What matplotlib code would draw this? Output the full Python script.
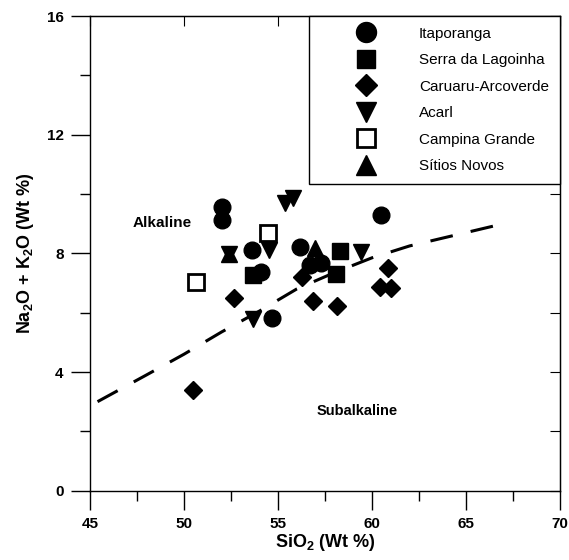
import matplotlib
matplotlib.use("Agg")
import matplotlib.pyplot as plt
from matplotlib.ticker import MultipleLocator

plt.rcParams["font.family"] = ["Liberation Sans", "DejaVu Sans"]
plt.rcParams["font.weight"] = "bold"
plt.rcParams["mathtext.fontset"] = "custom"
plt.rcParams["mathtext.rm"] = "Liberation Sans:bold"
plt.rcParams["mathtext.bf"] = "Liberation Sans:bold"

# data
itap_x = [52.0, 52.0, 53.6, 54.08, 54.66, 56.17, 56.7, 57.29, 60.46]
itap_y = [9.57, 9.12, 8.11, 7.38, 5.81, 8.22, 7.6, 7.67, 9.29]

serra_x = [53.69, 58.32, 58.09]
serra_y = [7.27, 8.09, 7.29]

caru_x = [50.48, 52.66, 56.26, 56.88, 58.12, 60.83, 60.4, 61.02]
caru_y = [3.39, 6.5, 7.21, 6.39, 6.22, 7.49, 6.87, 6.84]

acarl_x = [52.39, 54.54, 53.69, 55.35, 55.8, 59.41]
acarl_y = [7.98, 8.11, 5.77, 9.69, 9.86, 8.05]

campina_x = [54.48, 50.65]
campina_y = [8.67, 7.04]

sitios_x = [52.39, 56.97]
sitios_y = [7.98, 8.17]

# alkaline / subalkaline divide
line_x = [45.4, 48.0, 50.0, 52.0, 54.0, 56.0, 58.0, 60.0, 62.0, 64.0, 67.0]
line_y = [3.0, 3.9, 4.6, 5.35, 6.05, 6.8, 7.35, 7.85, 8.25, 8.55, 9.0]

fig = plt.figure(figsize=(5.69, 5.60), dpi=100)
ax = fig.add_axes([0.1582, 0.1238, 0.8260, 0.8476])

ax.plot(line_x, line_y, color="black", lw=2.2, dashes=(7.5, 6), zorder=1)

ms = 12
ax.plot(itap_x, itap_y, "o", color="black", ms=ms, ls="none", label="Itaporanga")
ax.plot(serra_x, serra_y, "s", color="black", ms=ms - 1, ls="none", label="Serra da Lagoinha")
ax.plot(caru_x, caru_y, "D", color="black", ms=ms - 3, ls="none", label="Caruaru-Arcoverde")
ax.plot(acarl_x, acarl_y, "v", color="black", ms=ms, ls="none", label="Acarl")
ax.plot(campina_x, campina_y, "s", mfc="white", mec="black", mew=2, ms=ms - 1,
        ls="none", label="Campina Grande")
ax.plot(sitios_x, sitios_y, "^", color="black", ms=ms, ls="none", label="Sítios Novos")

ax.text(48.82, 9.03, "Alkaline", fontsize=11, ha="center", va="center")
ax.text(59.2, 2.67, "Subalkaline", fontsize=10.5, ha="center", va="center")

ax.set_xlim(45, 70)
ax.set_ylim(0, 16)
ax.xaxis.set_major_locator(MultipleLocator(5))
ax.xaxis.set_minor_locator(MultipleLocator(2.5))
ax.yaxis.set_major_locator(MultipleLocator(4))
ax.yaxis.set_minor_locator(MultipleLocator(2))

ax.tick_params(which="major", direction="out", length=14, width=1, labelsize=11)
ax.tick_params(which="minor", direction="out", length=7, width=1)
ax.tick_params(which="both", top=False, right=False)
ax.tick_params(axis="x", pad=5)
ax.tick_params(axis="y", pad=5)

# inward ticks on top and right
ax2 = ax.secondary_xaxis("top")
ax2.xaxis.set_major_locator(MultipleLocator(5))
ax2.tick_params(direction="in", length=7, labeltop=False)
ay2 = ax.secondary_yaxis("right")
ay2.yaxis.set_major_locator(MultipleLocator(2))
ay2.tick_params(direction="in", length=7, labelright=False)

for sp in ax.spines.values():
    sp.set_linewidth(1)

ax.set_xlabel(r"SiO$_2$ (Wt %)", fontsize=13, fontweight="bold", labelpad=1)
ax.set_ylabel(r"Na$_2$O + K$_2$O (Wt %)", fontsize=13, fontweight="bold", labelpad=8)

leg = ax.legend(loc="upper left", bbox_to_anchor=(0.466, 1.0),
                prop={"size": 11, "weight": "normal"},
                frameon=True, fancybox=False, edgecolor="black", framealpha=1,
                borderpad=0.7, handlelength=6.0, handletextpad=0.5,
                labelspacing=0.82, markerscale=1.2, borderaxespad=0)
leg.get_frame().set_linewidth(1)

fig.savefig("out.png", dpi=100)
